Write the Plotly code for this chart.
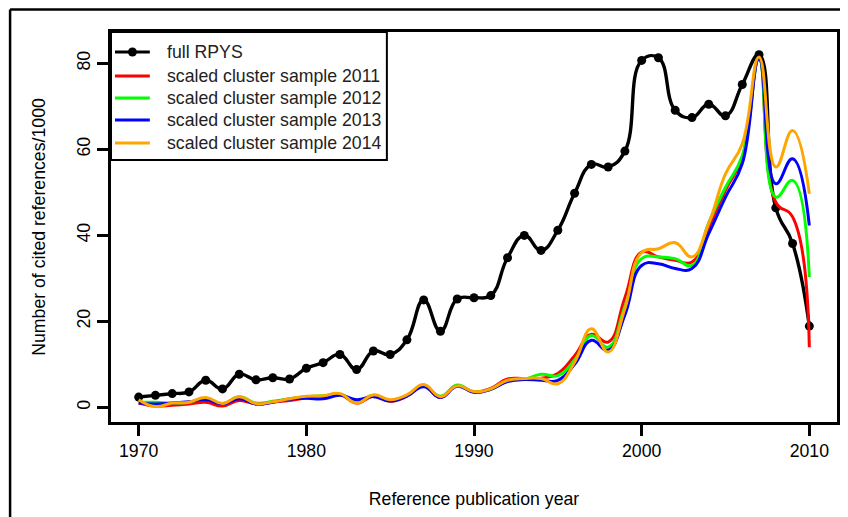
import plotly.graph_objects as go

years = list(range(1970, 2011))

full_rpys = [2.4, 2.8, 3.2, 3.6, 6.3, 4.3, 7.7, 6.4, 6.9, 6.6,
             9.1, 10.4, 12.3, 8.8, 13.1, 12.3, 15.7, 25.0, 17.7, 25.2,
             25.5, 26.0, 34.8, 40.0, 36.5, 41.2, 49.8, 56.5, 55.9, 59.6,
             80.7, 81.3, 69.1, 67.4, 70.5, 67.8, 75.1, 82.0, 46.4, 38.1, 18.9]

sample_2011 = [1.0, 0.3, 0.5, 0.8, 1.2, 0.3, 1.6, 0.8, 1.2, 1.6,
               2.2, 2.5, 3.0, 1.0, 2.6, 1.4, 2.6, 5.0, 2.3, 5.0,
               3.6, 4.4, 6.6, 6.7, 6.8, 7.9, 12.0, 17.0, 15.2, 25.5,
               36.1, 35.0, 34.2, 33.8, 41.9, 50.5, 58.2, 81.0, 47.7, 44.3, 14.0]

sample_2012 = [1.2, 1.2, 1.0, 1.2, 2.0, 0.8, 2.5, 1.0, 1.4, 2.0,
               2.5, 2.7, 3.1, 1.4, 2.8, 1.6, 2.8, 5.0, 2.6, 5.2,
               3.6, 4.2, 6.1, 6.5, 7.7, 7.4, 11.0, 16.7, 14.0, 23.5,
               34.6, 35.0, 34.6, 33.0, 43.0, 51.2, 58.5, 81.0, 48.9, 52.8, 30.3]

sample_2013 = [1.0, 0.8, 1.0, 1.3, 1.8, 0.8, 2.0, 0.8, 1.2, 1.9,
               2.1, 2.0, 2.8, 1.8, 2.5, 1.5, 2.6, 4.8, 2.3, 4.9,
               3.5, 4.2, 6.0, 6.5, 6.3, 6.3, 10.0, 15.6, 13.3, 21.5,
               33.0, 33.4, 32.3, 32.3, 40.4, 48.9, 56.7, 81.0, 52.0, 57.8, 42.3]

sample_2014 = [1.8, 0.2, 1.0, 1.2, 2.3, 0.9, 2.5, 0.9, 1.3, 2.0,
               2.6, 2.7, 3.2, 1.0, 2.9, 1.8, 2.9, 5.3, 2.5, 5.0,
               3.7, 4.3, 6.3, 6.7, 6.7, 5.5, 10.5, 18.3, 12.9, 23.0,
               36.0, 36.9, 38.3, 35.0, 42.8, 54.3, 61.3, 81.5, 55.9, 64.4, 49.7]

samples = [
    ("scaled cluster sample 2011", sample_2011, "#FF0000"),
    ("scaled cluster sample 2012", sample_2012, "#00FF00"),
    ("scaled cluster sample 2013", sample_2013, "#0000FF"),
    ("scaled cluster sample 2014", sample_2014, "#FFA500"),
]

font_family = "Liberation Sans, Arial, sans-serif"
fs = 17.7

fig = go.Figure()

fig.add_trace(go.Scatter(
    x=years, y=full_rpys, name="full RPYS",
    mode="lines+markers",
    line=dict(color="black", width=3.4, shape="spline", smoothing=1.3),
    marker=dict(color="black", size=9),
))

for nombre, valores, color in samples:
    fig.add_trace(go.Scatter(
        x=years, y=valores, name=nombre, mode="lines",
        line=dict(color=color, width=3, shape="spline", smoothing=1.3),
    ))

axis_common = dict(
    showgrid=False, zeroline=False,
    showline=True, mirror=True, linecolor="black", linewidth=2.5,
    ticks="outside", ticklen=11, tickwidth=2.5, tickcolor="black",
    tickfont=dict(size=fs, color="black", family=font_family),
)

# leyenda dibujada a mano (caja estilo R, esquina superior izquierda)
shapes = [
    dict(type="rect", xref="paper", yref="paper",
         x0=0, x1=0.38, y0=0.672, y1=1,
         fillcolor="white", line=dict(color="black", width=2)),
]
annotations = []
leyenda = [("full RPYS", "black")] + [(n, c) for n, _, c in samples]
filas_y = [0.9487, 0.8872, 0.8308, 0.7744, 0.7154]
for (texto, color), yy in zip(leyenda, filas_y):
    shapes.append(dict(type="line", xref="paper", yref="paper",
                       x0=0.0055, x1=0.0535, y0=yy, y1=yy,
                       line=dict(color=color, width=3)))
    annotations.append(dict(xref="paper", yref="paper", x=0.0741, y=yy,
                            xanchor="left", yanchor="middle", showarrow=False,
                            text=texto, font=dict(size=fs, color="#222222")))
shapes.append(dict(type="circle", xref="paper", yref="paper",
                   x0=0.0295 - 0.0062, x1=0.0295 + 0.0062,
                   y0=filas_y[0] - 0.0115, y1=filas_y[0] + 0.0115,
                   fillcolor="black", line=dict(color="black", width=0)))

# marco exterior de la imagen
shapes += [
    dict(type="line", xref="paper", yref="paper",
         x0=-0.139, x1=1.05, y0=1.058, y1=1.058,
         line=dict(color="black", width=2.5)),
    dict(type="line", xref="paper", yref="paper",
         x0=-0.139, x1=-0.139, y0=1.058, y1=-0.3,
         line=dict(color="black", width=2.5)),
]

# la página del navegador añade 8px de margen, se compensa aquí
fig.update_layout(
    width=840, height=509,
    margin=dict(l=103, r=8, t=24, b=95),
    paper_bgcolor="white", plot_bgcolor="white",
    font=dict(family=font_family, size=fs, color="black"),
    showlegend=False,
    xaxis=dict(
        range=[1968.35, 2011.65],
        tickvals=[1970, 1980, 1990, 2000, 2010],
        title=dict(text="Reference publication year", standoff=33,
                   font=dict(size=fs)),
        **axis_common,
    ),
    yaxis=dict(
        range=[-3.4, 87.3],
        tickvals=[0, 20, 40, 60, 80],
        tickangle=-90,
        title=dict(text="Number of cited references/1000", standoff=24,
                   font=dict(size=fs)),
        **axis_common,
    ),
    shapes=shapes,
    annotations=annotations,
)

fig.write_html("out.html")
